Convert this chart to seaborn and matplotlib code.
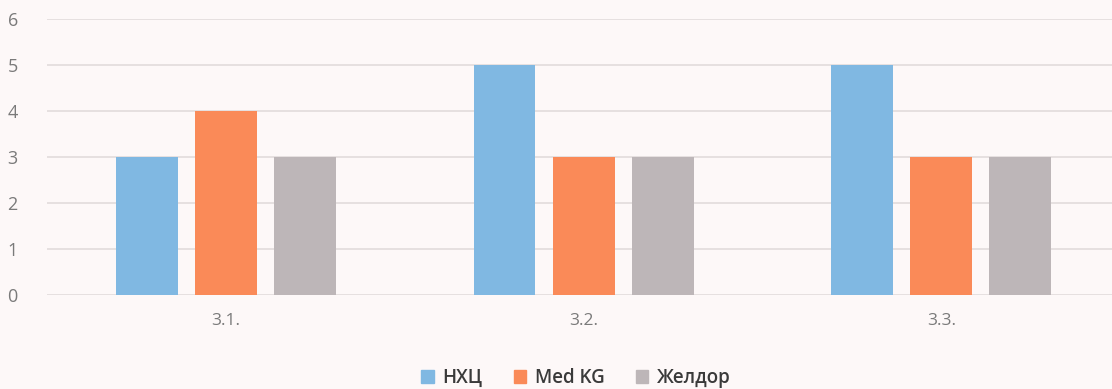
import matplotlib
matplotlib.use("Agg")
import matplotlib.pyplot as plt
import seaborn as sns
import pandas as pd

categories = ["3.1.", "3.2.", "3.3."]
series_names = ["НХЦ", "Med KG", "Желдор"]
nhc_values = [3, 5, 5]
medkg_values = [4, 3, 3]
zheldor_values = [3, 3, 3]
y_ticks = [0, 1, 2, 3, 4, 5, 6]

colors = ["#80b8e2", "#fa8a58", "#bdb6b8"]
bg = "#fdf8f8"

rows = []
for name, vals in zip(series_names, [nhc_values, medkg_values, zheldor_values]):
    for cat, v in zip(categories, vals):
        rows.append({"category": cat, "series": name, "value": v})
df = pd.DataFrame(rows)

sns.set_theme(style="white")
plt.rcParams["font.family"] = ["Open Sans", "DejaVu Sans"]

fig = plt.figure(figsize=(11.12, 3.89), dpi=100, facecolor=bg)
ax = fig.add_axes([0.0423, 0.2416, 0.965, 0.7095])
ax.set_facecolor(bg)

sns.barplot(data=df, x="category", y="value", hue="series",
            hue_order=series_names, order=categories,
            palette=colors, width=0.663, gap=0.217,
            saturation=1, linewidth=0, ax=ax, legend=False)

ax.set_ylim(0, 6)
ax.set_yticks(y_ticks)
ax.set_xlim(-0.5, 2.5)
ax.yaxis.grid(True, color="#e2dcdc", linewidth=1.2)
ax.set_axisbelow(True)
for s in ax.spines.values():
    s.set_visible(False)
ax.set_xlabel("")
ax.set_ylabel("")
ax.tick_params(axis="y", length=0, pad=21, labelsize=13, labelcolor="#7a7a7a")
ax.tick_params(axis="x", length=0, pad=13, labelsize=12.5, labelcolor="#7a7a7a")

handles = [plt.Rectangle((0, 0), 1, 1, color=c) for c in colors]
fig.legend(handles, series_names, loc="center", bbox_to_anchor=(0.518, 0.028),
           ncol=3, frameon=False, handlelength=0.65, handleheight=0.65,
           handletextpad=0.45, columnspacing=1.7,
           prop={"size": 13.5, "weight": "semibold"}, labelcolor="#3a3a3a")

fig.savefig("out.png", dpi=100, facecolor=bg)
